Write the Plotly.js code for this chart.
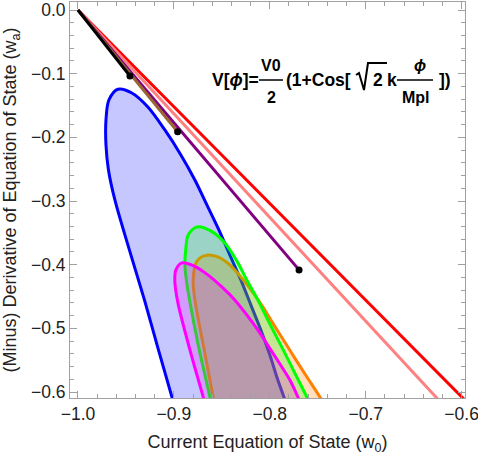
<!DOCTYPE html>
<html>
<head>
<meta charset="utf-8">
<script src="https://cdn.plot.ly/plotly-3.0.1.min.js"></script>
<style>
  body { margin: 0; background: #fff; }
  #chart { width: 478px; height: 456px; }
</style>
</head>
<body>
<div id="chart"></div>
<script>
// contours (w0, wa), each loop starts and ends below the frame
const blueW0 = [-0.8896, -0.9021, -0.9161, -0.9307, -0.9464, -0.9615, -0.9682, -0.9708, -0.9708, -0.9677, -0.9583, -0.9438, -0.9271, -0.9094, -0.8927, -0.8781, -0.8656, -0.8531, -0.8417, -0.8302, -0.8198, -0.8094, -0.8000, -0.7917, -0.7854, -0.7708];
const blueWa = [-0.675, -0.6075, -0.5338, -0.4553, -0.3768, -0.2983, -0.2512, -0.2119, -0.1727, -0.1413, -0.1245, -0.1303, -0.1523, -0.1884, -0.2276, -0.2669, -0.3061, -0.3454, -0.3846, -0.4239, -0.4631, -0.5024, -0.5416, -0.5808, -0.6075, -0.675];

const orangeW0 = [-0.8505, -0.8591, -0.8688, -0.8781, -0.8799, -0.8764, -0.8677, -0.8542, -0.8417, -0.8302, -0.8188, -0.8073, -0.7958, -0.7833, -0.7708, -0.7594, -0.7479, -0.7219];
const orangeWa = [-0.675, -0.6075, -0.5306, -0.4553, -0.4239, -0.3956, -0.3857, -0.3878, -0.4003, -0.4192, -0.4411, -0.4662, -0.4945, -0.5243, -0.5542, -0.5808, -0.6075, -0.675];

const greenW0 = [-0.8531, -0.8625, -0.8740, -0.8833, -0.8868, -0.8885, -0.8875, -0.8851, -0.8760, -0.8615, -0.8469, -0.8344, -0.8240, -0.8125, -0.8000, -0.7865, -0.7740, -0.7615, -0.7406];
const greenWa = [-0.675, -0.6075, -0.5306, -0.4584, -0.4265, -0.4003, -0.3741, -0.3532, -0.3407, -0.3469, -0.3658, -0.3940, -0.4239, -0.4553, -0.4929, -0.5322, -0.5699, -0.6075, -0.675];

const magentaW0 = [-0.8573, -0.8695, -0.8833, -0.8958, -0.8990, -0.8979, -0.8917, -0.8792, -0.8646, -0.8500, -0.8365, -0.8240, -0.8125, -0.8010, -0.7896, -0.7792, -0.7708, -0.7521];
const magentaWa = [-0.675, -0.6075, -0.5338, -0.4600, -0.4265, -0.4082, -0.3972, -0.4019, -0.4160, -0.4349, -0.4553, -0.4788, -0.5024, -0.5290, -0.5557, -0.5808, -0.6075, -0.675];

// trajectories from w0 = -1
const redW0 = [-1.0, -0.59];
const redWa = [0.0, -0.6228];
const pinkW0 = [-1.0, -0.62];
const pinkWa = [0.0, -0.619];
const purpleW0 = [-1.0, -0.7695];
const purpleWa = [0.0, -0.4082];
const brownW0 = [-1.0, -0.8961];
const brownWa = [0.0, -0.1911];
const blackW0 = [-1.0, -0.9458];
const blackWa = [0.0, -0.1036];

const FRAME = '#a0a0a0';
const FONT = 'Liberation Sans, Arial, sans-serif';

function region(x, y, col, fillcol) {
  return {
    x: x, y: y, type: 'scatter', mode: 'lines', fill: 'toself',
    fillcolor: fillcol,
    line: { color: col, width: 3, shape: 'spline', smoothing: 0.9 },
    hoverinfo: 'skip'
  };
}

function track(x, y, col) {
  return {
    x: x, y: y, type: 'scatter', mode: 'lines',
    line: { color: col, width: 3 },
    hoverinfo: 'skip'
  };
}

// end points of the three short tracks
const dots = {
  x: [blackW0[1], brownW0[1], purpleW0[1]],
  y: [blackWa[1], brownWa[1], purpleWa[1]],
  type: 'scatter', mode: 'markers',
  marker: { color: '#000', size: 7 },
  hoverinfo: 'skip'
};

const traces = [
  region(blueW0, blueWa, '#0000ff', 'rgba(0,0,255,0.22)'),
  region(orangeW0, orangeWa, '#ff8000', 'rgba(255,128,0,0.25)'),
  region(greenW0, greenWa, '#00ff00', 'rgba(0,255,0,0.22)'),
  region(magentaW0, magentaWa, '#ff00ff', 'rgba(255,0,255,0.22)'),
  track(redW0, redWa, '#ff0000'),
  track(pinkW0, pinkWa, '#ff8080'),
  track(purpleW0, purpleWa, '#800080'),
  track(brownW0, brownWa, '#996633'),
  track(blackW0, blackWa, '#000000'),
  dots
];

function axis(range, title, standoff) {
  return {
    range: range,
    tick0: 0, dtick: 0.1, tickformat: '.1f',
    ticks: 'inside', ticklen: 7, tickwidth: 1, tickcolor: FRAME,
    minor: { dtick: 0.02, ticks: 'inside', ticklen: 4, tickcolor: FRAME, showgrid: false },
    showline: true, linecolor: FRAME, linewidth: 1, mirror: 'ticks',
    showgrid: false, zeroline: false,
    ticklabeloverflow: 'allow',
    tickfont: { family: FONT, size: 17.5, color: '#222' },
    title: { text: title, standoff: standoff, font: { family: FONT, size: 18, color: '#222' } }
  };
}

// formula pieces, placed in paper units
function txt(text, x, y, anchor, size) {
  return {
    xref: 'paper', yref: 'paper', x: x, y: y, text: '<b>' + text + '</b>',
    showarrow: false, xanchor: anchor || 'center', yanchor: 'middle',
    font: { family: FONT, size: size || 17.5, color: '#000' }
  };
}
const annotations = [
  txt('V[<i>ϕ</i>]=', 0.3544, 0.8030, 'left'),
  txt('V0', 0.5089, 0.8409, 'center', 16),
  txt('2', 0.5089, 0.7601, 'center', 16),
  txt('(1+Cos[', 0.5418, 0.8030, 'left'),
  txt('2', 0.7797, 0.8030),
  txt('k', 0.8152, 0.8030),
  txt('<i>ϕ</i>', 0.8861, 0.8409, 'center', 16),
  txt('Mpl', 0.8759, 0.7601, 'center', 16),
  txt('])', 0.9291, 0.8030, 'left')
];
function bar(x0, x1, y) {
  return { type: 'line', xref: 'paper', yref: 'paper', x0: x0, x1: x1, y0: y, y1: y,
           line: { color: '#000', width: 1.5 } };
}
const shapes = [
  bar(0.4785, 0.5392, 0.8030),
  bar(0.8278, 0.9190, 0.8030),
  // square root sign
  { type: 'path', xref: 'paper', yref: 'paper',
    path: 'M0.7241,0.8157 L0.7316,0.8207 L0.7443,0.7778 L0.7544,0.8460 L0.8025,0.8460',
    line: { color: '#000', width: 2 } }
];

const layout = {
  width: 478, height: 456,
  margin: { l: 70, r: 13, t: 2, b: 58 },
  paper_bgcolor: '#fff', plot_bgcolor: '#fff',
  showlegend: false,
  xaxis: axis([-1.0083, -0.5965], 'Current Equation of State (w<sub>0</sub>)', 12),
  yaxis: axis([-0.6094, 0.0126], '(Minus) Derivative of Equation of State (w<sub>a</sub>)', 12),
  annotations: annotations,
  shapes: shapes
};

Plotly.newPlot('chart', traces, layout, { displayModeBar: false, staticPlot: true });
</script>
</body>
</html>
